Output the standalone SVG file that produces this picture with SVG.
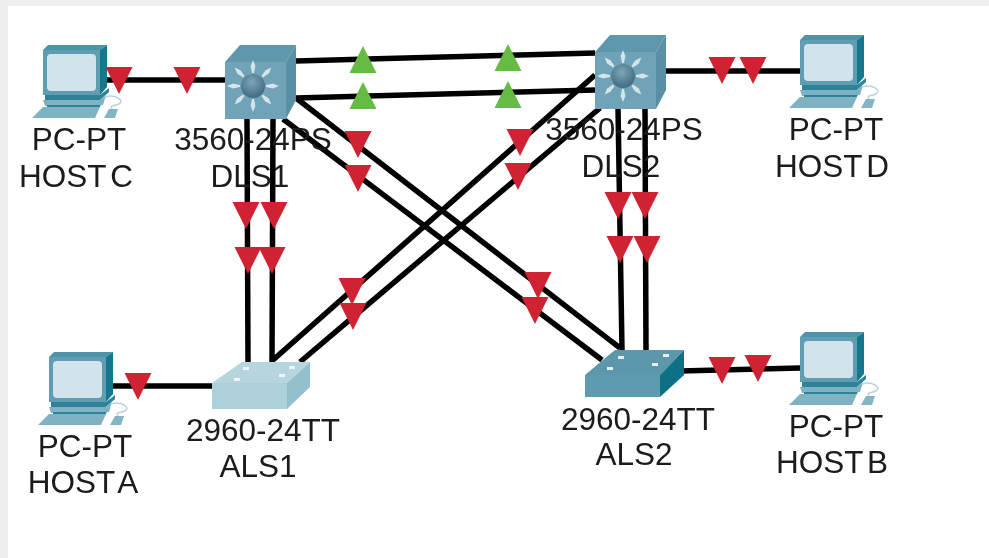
<svg xmlns="http://www.w3.org/2000/svg" width="989" height="558" viewBox="0 0 989 558">
<style>
.lbl{font-family:"Liberation Sans",Arial,sans-serif;font-size:31.5px;fill:#1a1a1a;text-anchor:middle;word-spacing:-4.5px}
.cable{stroke:#000;stroke-width:5.5;fill:none}
.red{fill:#cf2030}
.green{fill:#66bb44}
</style>
<defs>
<filter id="soft" x="-2%" y="-2%" width="104%" height="104%"><feGaussianBlur stdDeviation="0.55"/></filter>
<radialGradient id="hub" cx="45%" cy="35%" r="65%"><stop offset="0" stop-color="#7fa6b8"/><stop offset="1" stop-color="#3f6a80"/></radialGradient>
<polygon id="down" points="-13.5,0 13.5,0 0,27"/>
<polygon id="up" points="-13.5,27 13.5,27 0,0"/>
<polygon id="ray" points="-1,-13 1,-13 2.4,-20 0,-26 -2.4,-20" fill="#d5e4ea"/>
<g id="pc">
<polygon points="10,5 15,0 74,0 67,5" fill="#4f93a8"/>
<polygon points="67,5 74,0 74,42 67,50" fill="#13788d"/>
<rect x="10" y="5" width="57" height="45" fill="#5f9eb2"/>
<rect x="14" y="9" width="49" height="37" rx="4" fill="#d3e3ec"/>
<polygon points="12,50 67,50 76,43 76,47 67,55 12,55" fill="#2f8398"/>
<polygon points="10,55 67,55 73,50 70,60 12,61" fill="#7fb2c2"/>
<polygon points="14,60 68,60 66,63 14,63" fill="#2f8398"/>
<polygon points="-1,73 10,62 67,62 62,73" fill="#7fb2c2"/>
<path d="M72,52 C82,49 92,55 86,59 C82,61 76,60 79,64" fill="none" stroke="#b8d4de" stroke-width="1.5"/>
<polygon points="71,73 76,64 85,64 82,73" fill="#84b5c5"/>
</g>
<g id="mls">
<polygon points="0,17 15,0 71,0 61,17" fill="#5f97ac"/>
<polygon points="61,17 71,0 71,55 61,74" fill="#5a90a6"/>
<rect x="0" y="17" width="61" height="57" fill="#6fa3b7"/>
<g transform="translate(28,41)">
<use href="#ray"/><use href="#ray" transform="rotate(45)"/><use href="#ray" transform="rotate(90)"/><use href="#ray" transform="rotate(135)"/><use href="#ray" transform="rotate(180)"/><use href="#ray" transform="rotate(225)"/><use href="#ray" transform="rotate(270)"/><use href="#ray" transform="rotate(315)"/>
<circle r="12" fill="url(#hub)"/>
</g>
</g>
</defs>
<rect width="989" height="558" fill="#ffffff"/>
<rect width="989" height="6" fill="#eeeeee"/>
<rect width="8" height="558" fill="#eeeeee"/>
<g filter="url(#soft)">
<g id="connectors" class="cable">
<line x1="107" y1="80" x2="225" y2="80"/>
<line x1="296" y1="61" x2="595" y2="53"/>
<line x1="296" y1="98" x2="595" y2="90"/>
<line x1="666" y1="71" x2="800" y2="71"/>
<line x1="247" y1="119" x2="248" y2="362"/>
<line x1="273" y1="119" x2="272" y2="362"/>
<line x1="618" y1="108" x2="622" y2="350"/>
<line x1="645" y1="108" x2="646" y2="350"/>
<line x1="296" y1="98" x2="620" y2="348"/>
<line x1="283" y1="119" x2="602" y2="360"/>
<line x1="595" y1="75" x2="273" y2="360"/>
<line x1="600" y1="108" x2="300" y2="362"/>
<line x1="107" y1="386" x2="212" y2="386"/>
<line x1="680" y1="371" x2="800" y2="368"/>
</g>
<g id="host-c"><use href="#pc" x="33" y="45"/><text class="lbl" x="79" y="150">PC-PT</text><text class="lbl" x="76" y="187">HOST C</text></g>
<g id="host-d"><use href="#pc" x="790" y="35"/><text class="lbl" x="836" y="140">PC-PT</text><text class="lbl" x="832" y="177">HOST D</text></g>
<g id="host-a"><use href="#pc" x="39" y="352"/><text class="lbl" x="85" y="457">PC-PT</text><text class="lbl" x="83" y="493">HOST A</text></g>
<g id="host-b"><use href="#pc" x="790" y="332"/><text class="lbl" x="836" y="437">PC-PT</text><text class="lbl" x="832" y="473">HOST B</text></g>
<g id="dls1"><use href="#mls" x="225" y="45"/><text class="lbl" x="253" y="150">3560-24PS</text><text class="lbl" x="250" y="187">DLS1</text></g>
<g id="dls2"><use href="#mls" x="595" y="35"/><text class="lbl" x="624" y="140">3560-24PS</text><text class="lbl" x="621" y="177">DLS2</text></g>
<g id="als1">
<polygon points="212,383 242,362 310,362 287,383" fill="#b6d5de"/>
<polygon points="287,383 310,362 310,387 287,409" fill="#93c0cc"/>
<rect x="212" y="383" width="75" height="26" fill="#aed0da"/>
<g fill="#eef6f8"><rect x="243" y="367" width="6" height="3"/><rect x="289" y="366" width="6" height="3"/><rect x="234" y="378" width="6" height="3"/><rect x="279" y="374" width="6" height="3"/></g>
<text class="lbl" x="263" y="441">2960-24TT</text><text class="lbl" x="258" y="477">ALS1</text>
</g>
<g id="als2">
<polygon points="585,375 615,350 684,350 660,375" fill="#5d97ab"/>
<polygon points="660,375 684,350 684,375 660,397" fill="#0e7186"/>
<rect x="585" y="375" width="75" height="22" fill="#5f9bae"/>
<g fill="#e4eff3"><rect x="618" y="356" width="6" height="3"/><rect x="663" y="354" width="6" height="3"/><rect x="607" y="367" width="6" height="3"/><rect x="652" y="363" width="6" height="3"/></g>
<text class="lbl" x="638" y="430">2960-24TT</text><text class="lbl" x="634" y="465">ALS2</text>
</g>
<g id="link-lights">
<g class="red">
<use href="#down" x="119" y="67"/><use href="#down" x="187" y="67"/>
<use href="#down" x="722" y="57"/><use href="#down" x="753" y="57"/>
<use href="#down" x="138" y="373"/>
<use href="#down" x="722" y="357"/><use href="#down" x="758" y="355"/>
<use href="#down" x="358" y="131"/><use href="#down" x="358" y="165"/>
<use href="#down" x="520" y="129"/><use href="#down" x="518" y="163"/>
<use href="#down" x="246" y="202"/><use href="#down" x="274" y="202"/>
<use href="#down" x="248" y="247"/><use href="#down" x="272" y="247"/>
<use href="#down" x="352" y="278"/><use href="#down" x="353" y="303"/>
<use href="#down" x="618" y="192"/><use href="#down" x="645" y="192"/>
<use href="#down" x="620" y="236"/><use href="#down" x="647" y="236"/>
<use href="#down" x="538" y="272"/><use href="#down" x="535" y="297"/>
</g>
<g class="green">
<use href="#up" x="363" y="46"/><use href="#up" x="363" y="82"/>
<use href="#up" x="508" y="44"/><use href="#up" x="508" y="81"/>
</g>
</g>
</g>
</svg>
